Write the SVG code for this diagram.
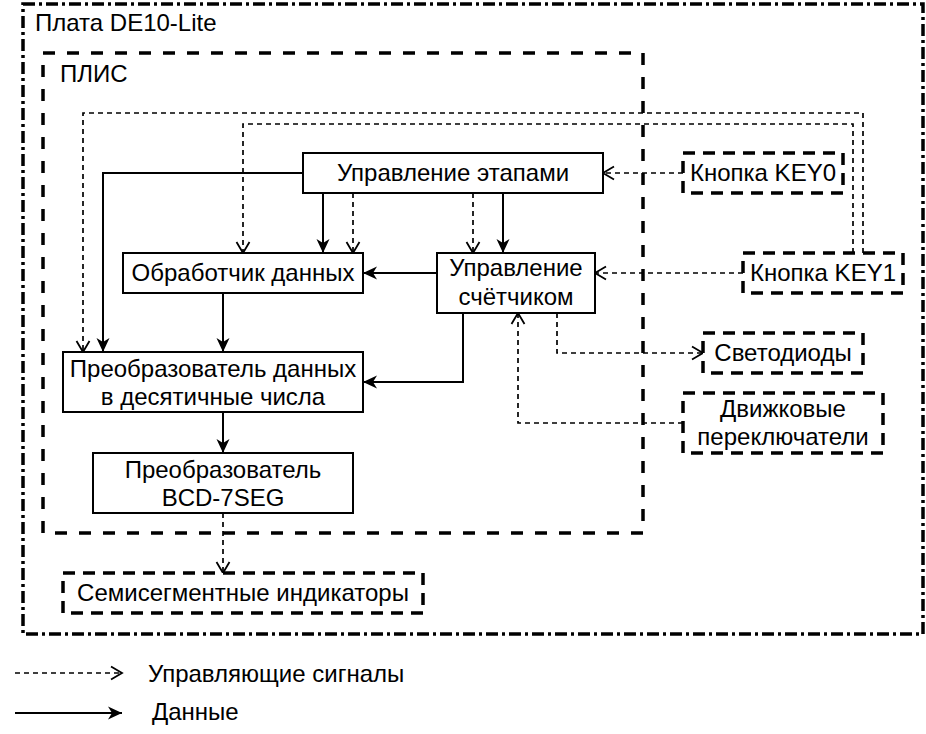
<svg xmlns="http://www.w3.org/2000/svg" width="926" height="734" viewBox="0 0 926 734">
<style>
text{font-family:"Liberation Sans",Arial,sans-serif;font-size:24px;fill:#000}
.c{text-anchor:middle}
.box{fill:#fff;stroke:#000;stroke-width:2}
.ext{fill:#fff;stroke:#000;stroke-width:3.5;stroke-dasharray:12 8}
.data{fill:none;stroke:#000;stroke-width:2;marker-end:url(#cl)}
.ctl{fill:none;stroke:#000;stroke-width:1.7;stroke-dasharray:5 4;marker-end:url(#op)}
</style>
<defs>
<marker id="cl" markerUnits="userSpaceOnUse" markerWidth="15" markerHeight="13" refX="14" refY="6.5" orient="auto" overflow="visible"><path d="M0,0 L14,6.5 L0,13 L4,6.5 Z" fill="#000"/></marker>
<marker id="op" markerUnits="userSpaceOnUse" markerWidth="13" markerHeight="14" refX="11" refY="6.5" orient="auto" overflow="visible"><path d="M0,0 L11,6.5 L0,13" fill="none" stroke="#000" stroke-width="1.8"/></marker>
</defs>
<rect width="926" height="734" fill="#fff"/>
<g id="board">
<rect x="23" y="4" width="900" height="630" fill="none" stroke="#000" stroke-width="3.5" stroke-dasharray="12 4 3 4"/>
<text x="35" y="31">Плата DE10-Lite</text>
</g>
<g id="fpga">
<rect x="43" y="53" width="600" height="480" fill="none" stroke="#000" stroke-width="3.5" stroke-dasharray="12 12"/>
<text x="60" y="82">ПЛИС</text>
</g>
<g id="connectors">
<path class="ctl" d="M853,253 V124 H243 V253"/>
<path class="ctl" d="M863,253 V113 H83 V352"/>
<path class="data" d="M303,173 H103 V352"/>
<path class="data" d="M323,193 V253"/>
<path class="data" d="M503,193 V253"/>
<path class="data" d="M437,273 H363"/>
<path class="data" d="M223,293 V352"/>
<path class="data" d="M463,313 V382 H363"/>
<path class="data" d="M223,412 V453"/>
<path class="ctl" d="M683,173 H603"/>
<path class="ctl" d="M743,273 H595"/>
<path class="ctl" d="M353,193 V253"/>
<path class="ctl" d="M473,193 V253"/>
<path class="ctl" d="M557,313 V353 H703"/>
<path class="ctl" d="M683,423 H518 V313"/>
<path class="ctl" d="M223,513 V573"/>
</g>
<g id="stage-control">
<rect class="box" x="303" y="153" width="300" height="40"/>
<text class="c" x="453" y="181">Управление этапами</text>
</g>
<g id="data-processor">
<rect class="box" x="123" y="253" width="240" height="40"/>
<text class="c" x="243" y="281">Обработчик данных</text>
</g>
<g id="counter-control">
<rect class="box" x="437" y="253" width="158" height="60"/>
<text class="c" x="516" y="276">Управление</text>
<text class="c" x="516" y="305">счётчиком</text>
</g>
<g id="decimal-converter">
<rect class="box" x="63" y="352" width="300" height="60"/>
<text class="c" x="213" y="377">Преобразователь данных</text>
<text class="c" x="213" y="405">в десятичные числа</text>
</g>
<g id="bcd-converter">
<rect class="box" x="93" y="453" width="260" height="60"/>
<text class="c" x="223" y="478">Преобразователь</text>
<text class="c" x="223" y="506">BCD-7SEG</text>
</g>
<g id="key0">
<rect class="ext" x="683" y="153" width="160" height="40"/>
<text class="c" x="763" y="181">Кнопка KEY0</text>
</g>
<g id="key1">
<rect class="ext" x="743" y="253" width="160" height="40"/>
<text class="c" x="823" y="281">Кнопка KEY1</text>
</g>
<g id="leds">
<rect class="ext" x="703" y="333" width="160" height="40"/>
<text class="c" x="783" y="361">Светодиоды</text>
</g>
<g id="switches">
<rect class="ext" x="683" y="393" width="200" height="60"/>
<text class="c" x="783" y="417">Движковые</text>
<text class="c" x="783" y="445">переключатели</text>
</g>
<g id="seven-seg">
<rect class="ext" x="63" y="573" width="360" height="40"/>
<text class="c" x="243" y="601">Семисегментные индикаторы</text>
</g>
<g id="legend">
<path class="ctl" d="M15,673 H122"/>
<text x="148" y="682">Управляющие сигналы</text>
<path class="data" d="M15,713 H122"/>
<text x="152" y="720">Данные</text>
</g>
</svg>
